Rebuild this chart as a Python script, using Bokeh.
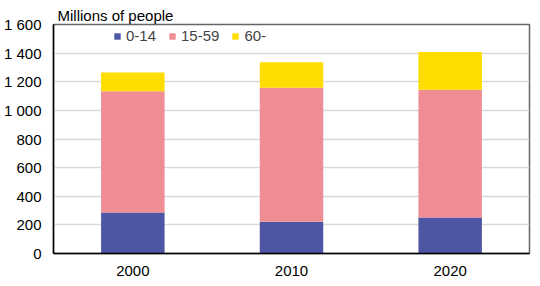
from bokeh.plotting import figure
from bokeh.embed import file_html
from bokeh.resources import INLINE
from bokeh.models import ColumnDataSource, Legend, FactorRange

years = ["2000", "2010", "2020"]
age_0_14 = [286, 221, 252]
age_15_59 = [848, 937, 892]
age_60 = [131, 179, 263]
series = ["0-14", "15-59", "60-"]
colors = ["#4E55A3", "#F08C94", "#FFDD00"]
y_ticks = [0, 200, 400, 600, 800, 1000, 1200, 1400, 1600]
y_tick_labels = ["0", "200", "400", "600", "800", "1 000", "1 200", "1 400", "1 600"]

FONT = "Liberation Sans"

src = ColumnDataSource(data={"year": years, "0-14": age_0_14, "15-59": age_15_59, "60-": age_60})

p = figure(x_range=FactorRange(*years), y_range=(0, 1600), width=540, height=286,
           output_backend="svg", toolbar_location=None,
           min_border_left=53, min_border_right=11, min_border_top=24, min_border_bottom=33)

rs = p.vbar_stack(series, x="year", width=0.4, source=src, color=colors, line_color=None)

p.title.text = "Millions of people"
p.title.text_font = FONT
p.title.text_font_size = "15px"
p.title.text_font_style = "normal"
p.title.text_color = "#000000"
p.title.align = "left"
p.title.offset = 4
p.title.standoff = 2

p.x_range.range_padding = 0
p.x_range.group_padding = 0

p.yaxis.ticker = y_ticks
p.yaxis.major_label_overrides = {t: l for t, l in zip(y_ticks, y_tick_labels)}
for ax in (p.xaxis, p.yaxis):
    ax.major_label_text_font = FONT
    ax.major_label_text_font_size = "15px"
    ax.major_label_text_color = "#000000"
    ax.major_tick_line_color = None
    ax.minor_tick_line_color = None
    ax.major_tick_out = 0
    ax.major_tick_in = 0
    ax.axis_line_color = "#000000"
    ax.axis_line_width = 1.5
p.yaxis.major_label_standoff = 12
p.xaxis.major_label_standoff = 12

p.xgrid.grid_line_color = None
p.ygrid.grid_line_color = "#D9D9D9"
p.ygrid.grid_line_width = 1.5
p.outline_line_color = "#666666"
p.outline_line_width = 1.5

legend = Legend(items=[(s, [r]) for s, r in zip(series, rs)], orientation="horizontal",
                location=(60, 209), padding=0, margin=0, spacing=12,
                label_standoff=5, glyph_width=8, glyph_height=8, label_height=15,
                label_text_font=FONT, label_text_font_size="15px",
                border_line_color=None, background_fill_alpha=0)
p.add_layout(legend, "center")

open("out.html", "w").write(file_html(p, INLINE))
